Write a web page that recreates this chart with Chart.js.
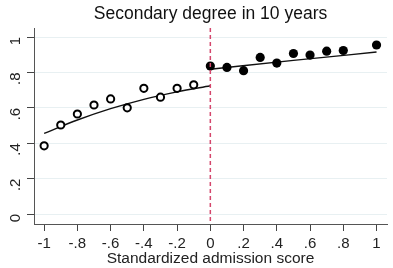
<!DOCTYPE html>
<html>
<head>
<meta charset="utf-8">
<script src="https://cdn.jsdelivr.net/npm/chart.js@4"></script>
<style>
  html, body { margin: 0; padding: 0; background: #fff; }
  #wrap { width: 393px; height: 268px; }
</style>
</head>
<body>
<div id="wrap"><canvas id="rdChart"></canvas></div>
<script>
// bins below the cutoff (open circles)
const belowX = [-1, -0.9, -0.8, -0.7, -0.6, -0.5, -0.4, -0.3, -0.2, -0.1];
const belowY = [0.385, 0.503, 0.565, 0.616, 0.65, 0.60, 0.71, 0.66, 0.71, 0.73];
// bins above the cutoff (filled)
const aboveX = [0, 0.1, 0.2, 0.3, 0.4, 0.5, 0.6, 0.7, 0.8, 1];
const aboveY = [0.836, 0.828, 0.81, 0.885, 0.853, 0.907, 0.898, 0.92, 0.924, 0.955];
// fitted curves
const fitLeftX = [-1, -0.8, -0.6, -0.4, -0.2, 0];
const fitLeftY = [0.456, 0.531, 0.595, 0.648, 0.69, 0.725];
const fitRightX = [0, 0.5, 1];
const fitRightY = [0.818, 0.868, 0.915];

const xTicks = [-1, -0.8, -0.6, -0.4, -0.2, 0, 0.2, 0.4, 0.6, 0.8, 1];
const yTicks = [0, 0.2, 0.4, 0.6, 0.8, 1];
const cutoff = 0;

// Stata style labels: ".2" instead of "0.2"
function stataLabel(v) {
    const s = String(Math.round(v * 10) / 10);
    return s.replace(/^(-?)0\./, '$1.');
}

const toPts = (xs, ys) => xs.map((x, i) => ({ x: x, y: ys[i] }));

// dashed cutoff line
const cutoffLine = {
    id: 'cutoffLine',
    afterDatasetsDraw(chart) {
        const { ctx, chartArea, scales } = chart;
        const px = scales.x.getPixelForValue(cutoff);
        ctx.save();
        ctx.strokeStyle = '#d4466c';
        ctx.lineWidth = 1.5;
        ctx.setLineDash([4, 3]);
        ctx.beginPath();
        ctx.moveTo(px, chartArea.top);
        ctx.lineTo(px, chartArea.bottom);
        ctx.stroke();
        ctx.restore();
    }
};

const font = 'Liberation Sans, Arial, sans-serif';

new Chart(document.getElementById('rdChart'), {
    type: 'scatter',
    data: {
        datasets: [
            {
                data: toPts(fitLeftX, fitLeftY),
                showLine: true,
                borderColor: '#111',
                borderWidth: 1.4,
                pointRadius: 0,
                cubicInterpolationMode: 'monotone',
                order: 3
            },
            {
                data: toPts(fitRightX, fitRightY),
                showLine: true,
                borderColor: '#111',
                borderWidth: 1.4,
                pointRadius: 0,
                cubicInterpolationMode: 'monotone',
                order: 3
            },
            {
                data: toPts(belowX, belowY),
                pointRadius: 3.6,
                pointBorderWidth: 2,
                pointBorderColor: '#000',
                pointBackgroundColor: '#fff',
                order: 1
            },
            {
                data: toPts(aboveX, aboveY),
                pointRadius: 4.6,
                pointBorderWidth: 0,
                pointBackgroundColor: '#000',
                order: 1
            }
        ]
    },
    options: {
        responsive: true,
        maintainAspectRatio: false,
        animation: false,
        layout: { padding: 0 },
        plugins: {
            legend: { display: false },
            tooltip: { enabled: false },
            title: {
                display: true,
                text: 'Secondary degree in 10 years',
                fullSize: false,
                color: '#111',
                font: { family: font, size: 17.5, weight: 'normal' },
                padding: { top: 4, bottom: 3 }
            }
        },
        scales: {
            x: {
                type: 'linear',
                min: -1.061,
                max: 1.063,
                afterBuildTicks: s => { s.ticks = xTicks.map(v => ({ value: v })); },
                afterFit: s => { s.height = 44; },
                ticks: {
                    color: '#222',
                    font: { family: font, size: 15 },
                    padding: 4,
                    maxRotation: 0,
                    autoSkip: false,
                    callback: v => stataLabel(v)
                },
                grid: { drawOnChartArea: false, tickColor: '#444', tickLength: 7 },
                border: { color: '#555', width: 1 },
                title: {
                    display: true,
                    text: 'Standardized admission score',
                    color: '#222',
                    font: { family: font, size: 15.5 },
                    padding: { top: 0, bottom: 0 }
                }
            },
            y: {
                type: 'linear',
                min: -0.0565,
                max: 1.051,
                afterBuildTicks: s => { s.ticks = yTicks.map(v => ({ value: v })); },
                afterFit: s => { s.width = 34; },
                ticks: {
                    color: '#222',
                    font: { family: font, size: 15 },
                    padding: 11,
                    minRotation: 90,
                    maxRotation: 90,
                    autoSkip: false,
                    callback: v => stataLabel(v)
                },
                grid: { color: '#e8f0f2', tickColor: '#444', tickLength: 7, lineWidth: 1 },
                border: { color: '#555', width: 1 }
            }
        }
    },
    plugins: [cutoffLine]
});
</script>
</body>
</html>
